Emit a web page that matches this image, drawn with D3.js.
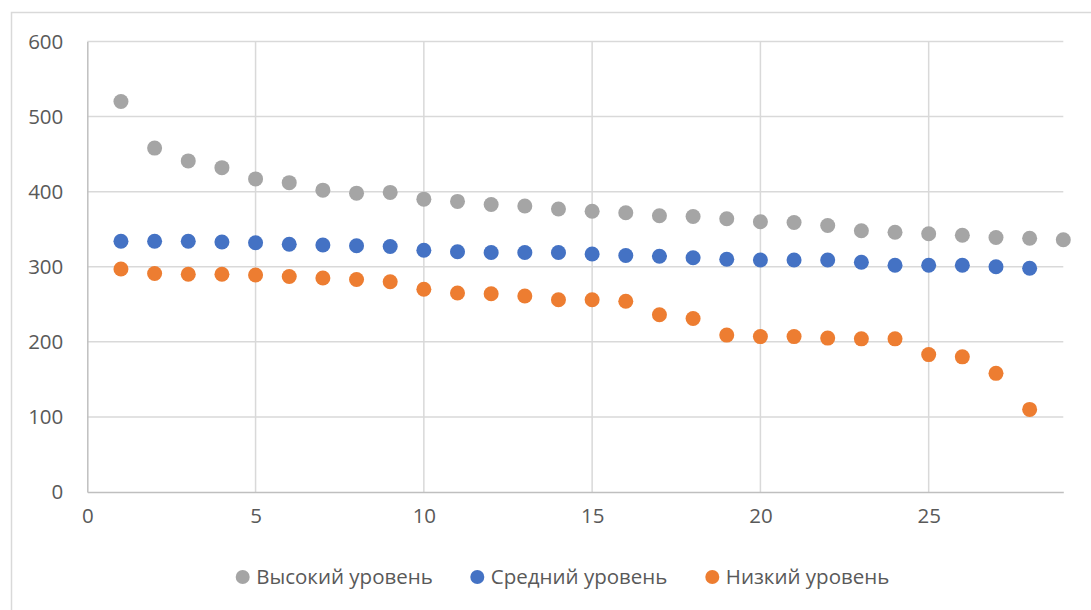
<!DOCTYPE html>
<html>
<head>
<meta charset="utf-8">
<script src="https://cdn.jsdelivr.net/npm/d3@7"></script>
<style>
  html, body { margin: 0; padding: 0; background: #fff; }
  svg { display: block; }
  text { font-family: "Open Sans", "Liberation Sans", sans-serif; fill: #595959; }
</style>
</head>
<body>
<svg id="chart" width="1091" height="610"></svg>
<script>
// Series values, indexed by x = 1..n
const highLevel = [520, 458, 441, 432, 417, 412, 402, 398, 399, 390, 387, 383, 381, 377, 374,
                   372, 368, 367, 364, 360, 359, 355, 348, 346, 344, 342, 339, 338, 336];
const midLevel  = [334, 334, 334, 333, 332, 330, 329, 328, 327, 322, 320, 319, 319, 319, 317,
                   315, 314, 312, 310, 309, 309, 309, 306, 302, 302, 302, 300, 298];
const lowLevel  = [297, 291, 290, 290, 289, 287, 285, 283, 280, 270, 265, 264, 261, 256, 256,
                   254, 236, 231, 209, 207, 207, 205, 204, 204, 183, 180, 158, 110];

const seriesNames  = ["Высокий уровень", "Средний уровень", "Низкий уровень"];
const seriesColors = ["#A5A5A5", "#4472C4", "#ED7D31"];
const xTicks = [0, 5, 10, 15, 20, 25];
const yTicks = [0, 100, 200, 300, 400, 500, 600];

const series = [highLevel, midLevel, lowLevel].map((vals, i) => ({
  name: seriesNames[i],
  color: seriesColors[i],
  points: vals.map((v, j) => ({ x: j + 1, y: v }))
}));

const svg = d3.select("#chart");
const W = 1091, H = 610;
const plot = { left: 87.3, right: 1063.3, top: 41.5, bottom: 492 };
const fontSize = 20.5;

// Outer chart frame
svg.append("rect")
  .attr("x", 11.5).attr("y", 12.5)
  .attr("width", W + 10).attr("height", H + 10)
  .attr("fill", "none").attr("stroke", "#d9d9d9").attr("stroke-width", 1.5);

const x = d3.scaleLinear().domain([0, 29]).range([plot.left, plot.right]);
const y = d3.scaleLinear().domain([0, 600]).range([plot.bottom, plot.top]);

// Gridlines
const grid = svg.append("g");
grid.selectAll("line.h").data(yTicks.filter(t => t > 0)).join("line")
  .attr("x1", plot.left).attr("x2", plot.right)
  .attr("y1", d => y(d)).attr("y2", d => y(d))
  .attr("stroke", "#d9d9d9").attr("stroke-width", 1.5);
grid.selectAll("line.v").data(xTicks.filter(t => t > 0)).join("line")
  .attr("y1", plot.top).attr("y2", plot.bottom)
  .attr("x1", d => x(d)).attr("x2", d => x(d))
  .attr("stroke", "#d9d9d9").attr("stroke-width", 1.5);

// Axes
const yAxis = svg.append("g")
  .attr("transform", `translate(${plot.left},0)`)
  .call(d3.axisLeft(y).tickValues(yTicks).tickSize(0).tickPadding(24));
const xAxis = svg.append("g")
  .attr("transform", `translate(0,${plot.bottom})`)
  .call(d3.axisBottom(x).tickValues(xTicks).tickSize(0).tickPadding(16));
[yAxis, xAxis].forEach(a => {
  a.select(".domain").attr("stroke", "#bfbfbf").attr("stroke-width", 1.5);
  a.selectAll("text").attr("font-size", fontSize).attr("fill", "#595959")
    .style("font-family", '"Open Sans", "Liberation Sans", sans-serif');
});

// Markers
series.forEach(s => {
  svg.append("g").selectAll("circle").data(s.points).join("circle")
    .attr("cx", d => x(d.x)).attr("cy", d => y(d.y))
    .attr("r", 7.5).attr("fill", s.color);
});

// Legend
const legendX = [242.7, 477.3, 712.3];
const legend = svg.append("g");
series.forEach((s, i) => {
  const g = legend.append("g").attr("transform", `translate(${legendX[i]},577)`);
  g.append("circle").attr("r", 7).attr("fill", s.color);
  g.append("text").attr("x", 13.5).attr("dy", "0.35em")
    .attr("font-size", fontSize).text(s.name);
});
</script>
</body>
</html>
